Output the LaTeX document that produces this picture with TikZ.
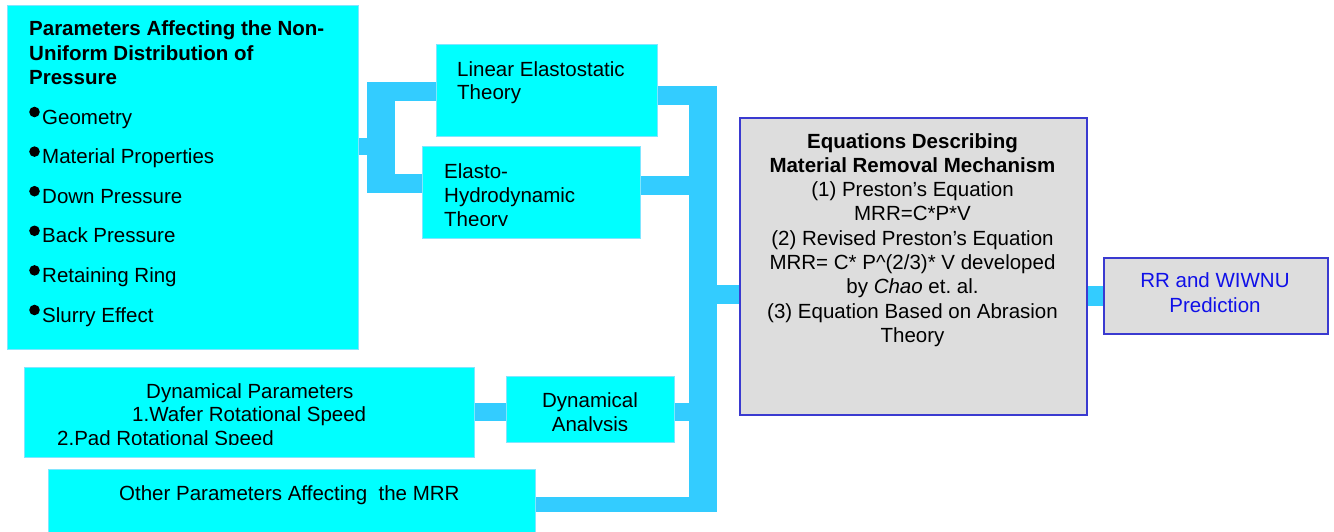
\documentclass[tikz,border=0pt]{standalone}
\usepackage{fontspec}
\setmainfont{Liberation Sans}
\usetikzlibrary{backgrounds}
\frenchspacing
\definecolor{cy}{HTML}{00FFFF}
\definecolor{barc}{HTML}{33CCFF}
\definecolor{gr}{HTML}{DDDDDD}
\definecolor{bl}{HTML}{3A3AD0}
\definecolor{rrblue}{HTML}{1010E8}
\definecolor{cyedge}{HTML}{80E6FF}
\begin{document}
\begin{tikzpicture}[x=1pt,y=-1pt,
  cbox/.style={fill=cy,draw=cyedge,line width=0.8pt,inner sep=0pt,anchor=north west},
  gbox/.style={fill=gr,draw=bl,line width=2pt,inner sep=0pt,anchor=north west},
  bar/.style={draw=barc,line width=#1},
  txt/.style={inner sep=0pt,font=\fontsize{20.5}{24}\selectfont},
]
\useasboundingbox (0,0) rectangle (1334,531);

% ---------- boxes ----------
\path (7,5) node[cbox,minimum width=351pt,minimum height=344pt] (big) {};
\path (436,44) node[cbox,minimum width=221pt,minimum height=92pt] (lin) {};
\path (422,146) node[cbox,minimum width=218pt,minimum height=92pt] (ela) {};
\path (24,367) node[cbox,minimum width=450pt,minimum height=90pt] (dp) {};
\path (506,376) node[cbox,minimum width=168pt,minimum height=66pt] (da) {};
\path (48,469) node[cbox,minimum width=487pt,minimum height=80pt] (oth) {};
\path (739,117) node[gbox,minimum width=347pt,minimum height=297pt] (eq) {};
\path (1103,257) node[gbox,minimum width=224pt,minimum height=76pt] (rr) {};

% ---------- connectors (behind boxes) ----------
\coordinate (bt) at (381,82);
\coordinate (bb) at (381,193);
\coordinate (bm) at (381,146.5);
\coordinate (bu) at (381,91.5);
\coordinate (bl2) at (381,183.5);
\coordinate (tt) at (703,86);
\coordinate (tb) at (703,512);
\coordinate (t1) at (703,95.5);
\coordinate (t2) at (703,185.5);
\coordinate (t3) at (703,294.5);
\coordinate (t4) at (703,412);
\coordinate (t5) at (703,504.5);
\begin{scope}[on background layer]
  \draw[bar=28pt] (bt) -- (bb);
  \draw[bar=17pt] (big.east |- bm) -- (bm);
  \draw[bar=19pt] (bu) -- (lin.west |- bu);
  \draw[bar=19pt] (bl2) -- (ela.west |- bl2);
  \draw[bar=28pt] (tt) -- (tb);
  \draw[bar=19pt] (lin.east |- t1) -- (t1);
  \draw[bar=19pt] (ela.east |- t2) -- (t2);
  \draw[bar=18pt] (da.east |- t4) -- (t4);
  \draw[bar=15pt] (oth.east |- t5) -- (t5);
  \draw[bar=19pt] (t3) -- (eq.west |- t3);
  \draw[bar=20pt] (eq.east |- 0,295.5) -- (rr.west |- 0,295.5);
  \draw[bar=18pt] (dp.east |- t4) -- (da.west |- t4);
\end{scope}

% ---------- texts (anchor base = last line) ----------
\node[txt,font=\bfseries\fontsize{20.5}{24.5}\selectfont,align=left,anchor=base west] (bigt) at (29,84.5)
  {Parameters Affecting the Non-\\Uniform Distribution of\\Pressure};
\node[txt,font=\fontsize{20.5}{39.6}\selectfont,align=left,anchor=base west] (bigl) at (42,322)
  {Geometry\\Material Properties\\Down Pressure\\Back Pressure\\Retaining Ring\\Slurry Effect};
\foreach \i in {0,...,5} \fill (34.5,112+39.6*\i) circle (5.3pt);

\node[txt,font=\fontsize{20.5}{23.6}\selectfont,align=left,anchor=base west] (lint) at (457,99.6)
  {Linear Elastostatic\\Theory};

\begin{scope}
  \clip (422,146) rectangle (640,225);
  \node[txt,align=left,anchor=base west] (elat) at (444,226)
    {Elasto-\\Hydrodynamic\\Theory};
\end{scope}

\node[txt,font=\fontsize{20.5}{24.3}\selectfont,align=center,anchor=base] (eqt) at (912.5,342.4)
  {\textbf{Equations Describing}\\\textbf{Material Removal Mechanism}\\(1) Preston’s Equation\\MRR=C*P*V\\(2) Revised Preston’s Equation\\MRR= C* P\textasciicircum(2/3)* V developed\\by \textit{Chao} et. al.\\(3) Equation Based on Abrasion\\Theory};

\node[txt,font=\fontsize{20.5}{25}\selectfont,align=center,anchor=base,text=rrblue] (rrt) at (1215,312)
  {RR and WIWNU\\Prediction};

\begin{scope}
  \clip (24,367) rectangle (474,444);
  \node[txt,font=\fontsize{20.5}{23.8}\selectfont,align=left,anchor=base west] (dpt) at (57,445.6)
    {\hspace*{89pt}Dynamical Parameters\\\hspace*{75pt}1.Wafer Rotational Speed\\2.Pad Rotational Speed};
\end{scope}

\begin{scope}
  \clip (506,376) rectangle (674,430);
  \node[txt,align=center,anchor=base] (dat) at (590,431) {Dynamical\\Analysis};
\end{scope}

\node[txt,anchor=base west] (otht) at (119,500) {Other Parameters Affecting\ \ the MRR};
\end{tikzpicture}
\end{document}
